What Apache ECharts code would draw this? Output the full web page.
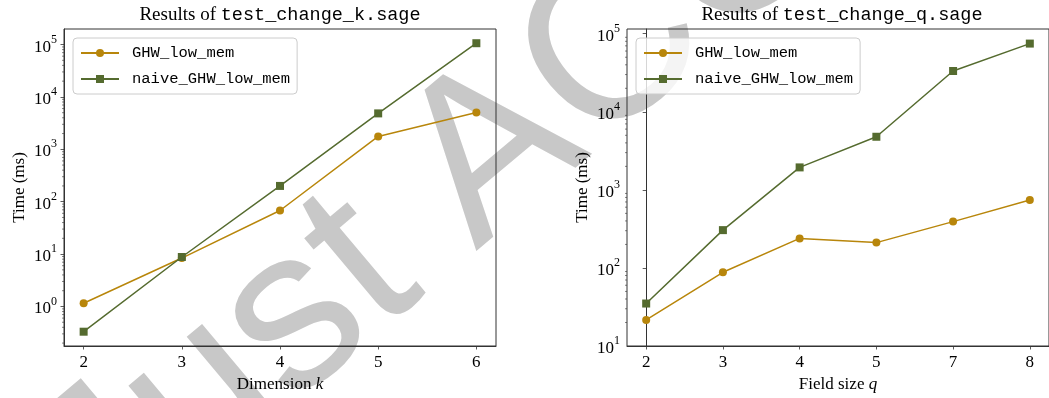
<!DOCTYPE html>
<html>
<head>
<meta charset="utf-8">
<script src="https://cdn.jsdelivr.net/npm/echarts@6/dist/echarts.min.js"></script>
<style>
  html, body { margin: 0; padding: 0; background: #fff; }
  #chart { width: 1049px; height: 398px; }
</style>
</head>
<body>
<div id="chart"></div>
<script>
// ----- data -----
const seriesNames = ['GHW_low_mem', 'naive_GHW_low_mem'];

// left panel: time vs dimension k
const kValues = [2, 3, 4, 5, 6];
const kGhw    = [1.15, 8.4, 68, 1760, 5050];
const kNaive  = [0.33, 8.8, 200, 4850, 106000];

// right panel: time vs field size q (evenly spaced categories)
const qLabels = ['2', '3', '4', '5', '7', '8'];
const qGhw    = [21.6, 88, 239, 211, 392, 743];
const qNaive  = [35, 305, 1940, 4790, 33300, 74800];

// ----- styles -----
const GOLD = '#b8860b';
const OLIVE = '#556b2f';
const AXIS = '#333';
const SERIF = '"Liberation Serif", "DejaVu Serif", serif';
const MONO = '"Liberation Mono", "DejaVu Sans Mono", monospace';

// minor ticks of a log axis: 2..9 x 10^n inside [lo, hi]
function logMinorTicks(lo, hi) {
  const out = [];
  for (let e = Math.floor(Math.log10(lo)); e <= Math.ceil(Math.log10(hi)); e++) {
    for (let m = 2; m <= 9; m++) {
      const v = m * Math.pow(10, e);
      if (v > lo && v < hi) out.push(v);
    }
  }
  return out;
}

function powLabel(v) {
  return '{n|10}{s|' + Math.round(Math.log10(v)) + '}';
}

const labelRich = {
  n: { fontFamily: SERIF, fontSize: 17, color: '#000', lineHeight: 22, verticalAlign: 'bottom' },
  s: { fontFamily: SERIF, fontSize: 12, color: '#000', lineHeight: 12, verticalAlign: 'top' }
};

function xAxisOpt(gridIndex, min, max, name, fmt) {
  return {
    type: 'value', gridIndex, min, max,
    name, nameLocation: 'middle', nameGap: 30,
    nameTextStyle: {
      fontFamily: SERIF, fontSize: 17, color: '#000',
      rich: { i: { fontFamily: SERIF, fontSize: 17, fontStyle: 'italic', color: '#000' } }
    },
    axisLine: { show: true, lineStyle: { color: AXIS, width: 1 } },
    axisTick: { show: true, length: 3.5, lineStyle: { color: AXIS, width: 0.8 } },
    axisLabel: {
      margin: 8, fontFamily: SERIF, fontSize: 17, color: '#000',
      showMinLabel: false, showMaxLabel: false, formatter: fmt
    },
    splitLine: { show: false }
  };
}

function yAxisOpt(gridIndex, min, max, showMin) {
  return {
    type: 'log', logBase: 10, gridIndex, min, max,
    name: 'Time (ms)', nameLocation: 'middle', nameGap: 36,
    nameTextStyle: { fontFamily: SERIF, fontSize: 17, color: '#000' },
    axisLine: { show: true, lineStyle: { color: AXIS, width: 1 } },
    axisTick: { show: true, length: 3.5, lineStyle: { color: AXIS, width: 0.8 } },
    axisLabel: {
      margin: 7, showMinLabel: showMin, showMaxLabel: false,
      formatter: powLabel, rich: labelRich
    },
    splitLine: { show: false }
  };
}

function lineSeries(name, xi, data, color, symbol) {
  return {
    name, type: 'line', xAxisIndex: xi, yAxisIndex: xi, data,
    symbol, symbolSize: 8,
    lineStyle: { color, width: 1.5 },
    itemStyle: { color },
    z: 3
  };
}

function minorTickSeries(xi, xAt, ticks) {
  return {
    type: 'custom', xAxisIndex: xi, yAxisIndex: xi, silent: true, clip: false,
    data: ticks.map(v => [xAt, v]),
    renderItem: (params, api) => {
      const p = api.coord([api.value(0), api.value(1)]);
      return {
        type: 'line',
        shape: { x1: p[0] - 2, y1: p[1], x2: p[0], y2: p[1] },
        style: { stroke: AXIS, lineWidth: 0.6 }
      };
    },
    z: 2
  };
}

function legendOpt(left) {
  return {
    data: seriesNames, orient: 'vertical', left, top: 38,
    padding: [7, 7, 7, 7], itemGap: 10, itemWidth: 38, itemHeight: 10,
    backgroundColor: 'rgba(255,255,255,0.8)', borderColor: '#cccccc', borderWidth: 1, borderRadius: 4,
    textStyle: { fontFamily: MONO, fontSize: 15.5, color: '#000', lineHeight: 16, padding: [0, 0, 0, 8] }
  };
}

const kRange = [1.8, 6.2];
const qRange = [-0.25, 5.25];
const kY = [0.176, 1.98e5];
const qY = [10, 1.15e5];

const chart = echarts.init(document.getElementById('chart'), null, { renderer: 'canvas' });
chart.setOption({
  backgroundColor: '#fff',
  animation: false,
  graphic: [
    {
      // background watermark of the page
      type: 'text', z: -10, x: 140, y: 600, rotation: 40 * Math.PI / 180, silent: true,
      style: {
        text: 'Just ACCEPTED', fontFamily: '"Liberation Sans", Arial, sans-serif', fontSize: 228,
        fill: '#c8c8c8', textAlign: 'left', textVerticalAlign: 'bottom'
      }
    },
    {
      type: 'text', x: 280, y: 15, z: 5,
      style: {
        text: 'Results of {m|test_change_k.sage}', fontFamily: SERIF, fontSize: 19, fill: '#000',
        textAlign: 'center', textVerticalAlign: 'middle',
        rich: { m: { fontFamily: MONO, fontSize: 18.5, fill: '#000' } }
      }
    },
    {
      type: 'text', x: 842, y: 15, z: 5,
      style: {
        text: 'Results of {m|test_change_q.sage}', fontFamily: SERIF, fontSize: 19, fill: '#000',
        textAlign: 'center', textVerticalAlign: 'middle',
        rich: { m: { fontFamily: MONO, fontSize: 18.5, fill: '#000' } }
      }
    }
  ],
  grid: [
    { left: 64, top: 29, width: 432, height: 321, show: true, borderColor: AXIS, borderWidth: 1, backgroundColor: 'transparent' },
    { left: 627, top: 29, width: 430, height: 321, show: true, borderColor: AXIS, borderWidth: 1, backgroundColor: 'transparent' }
  ],
  legend: [legendOpt(73), legendOpt(636)],
  xAxis: [
    xAxisOpt(0, kRange[0], kRange[1], 'Dimension {i|k}', v => String(Math.round(v))),
    xAxisOpt(1, qRange[0], qRange[1], 'Field size {i|q}', v => qLabels[Math.round(v)] || '')
  ],
  yAxis: [
    yAxisOpt(0, kY[0], kY[1], false),
    yAxisOpt(1, qY[0], qY[1], true)
  ],
  series: [
    lineSeries(seriesNames[0], 0, kValues.map((k, i) => [k, kGhw[i]]), GOLD, 'circle'),
    lineSeries(seriesNames[1], 0, kValues.map((k, i) => [k, kNaive[i]]), OLIVE, 'rect'),
    lineSeries(seriesNames[0], 1, qLabels.map((q, i) => [i, qGhw[i]]), GOLD, 'circle'),
    lineSeries(seriesNames[1], 1, qLabels.map((q, i) => [i, qNaive[i]]), OLIVE, 'rect'),
    minorTickSeries(0, kRange[0], logMinorTicks(kY[0], kY[1])),
    minorTickSeries(1, qRange[0], logMinorTicks(qY[0], qY[1]))
  ]
});
</script>
</body>
</html>
